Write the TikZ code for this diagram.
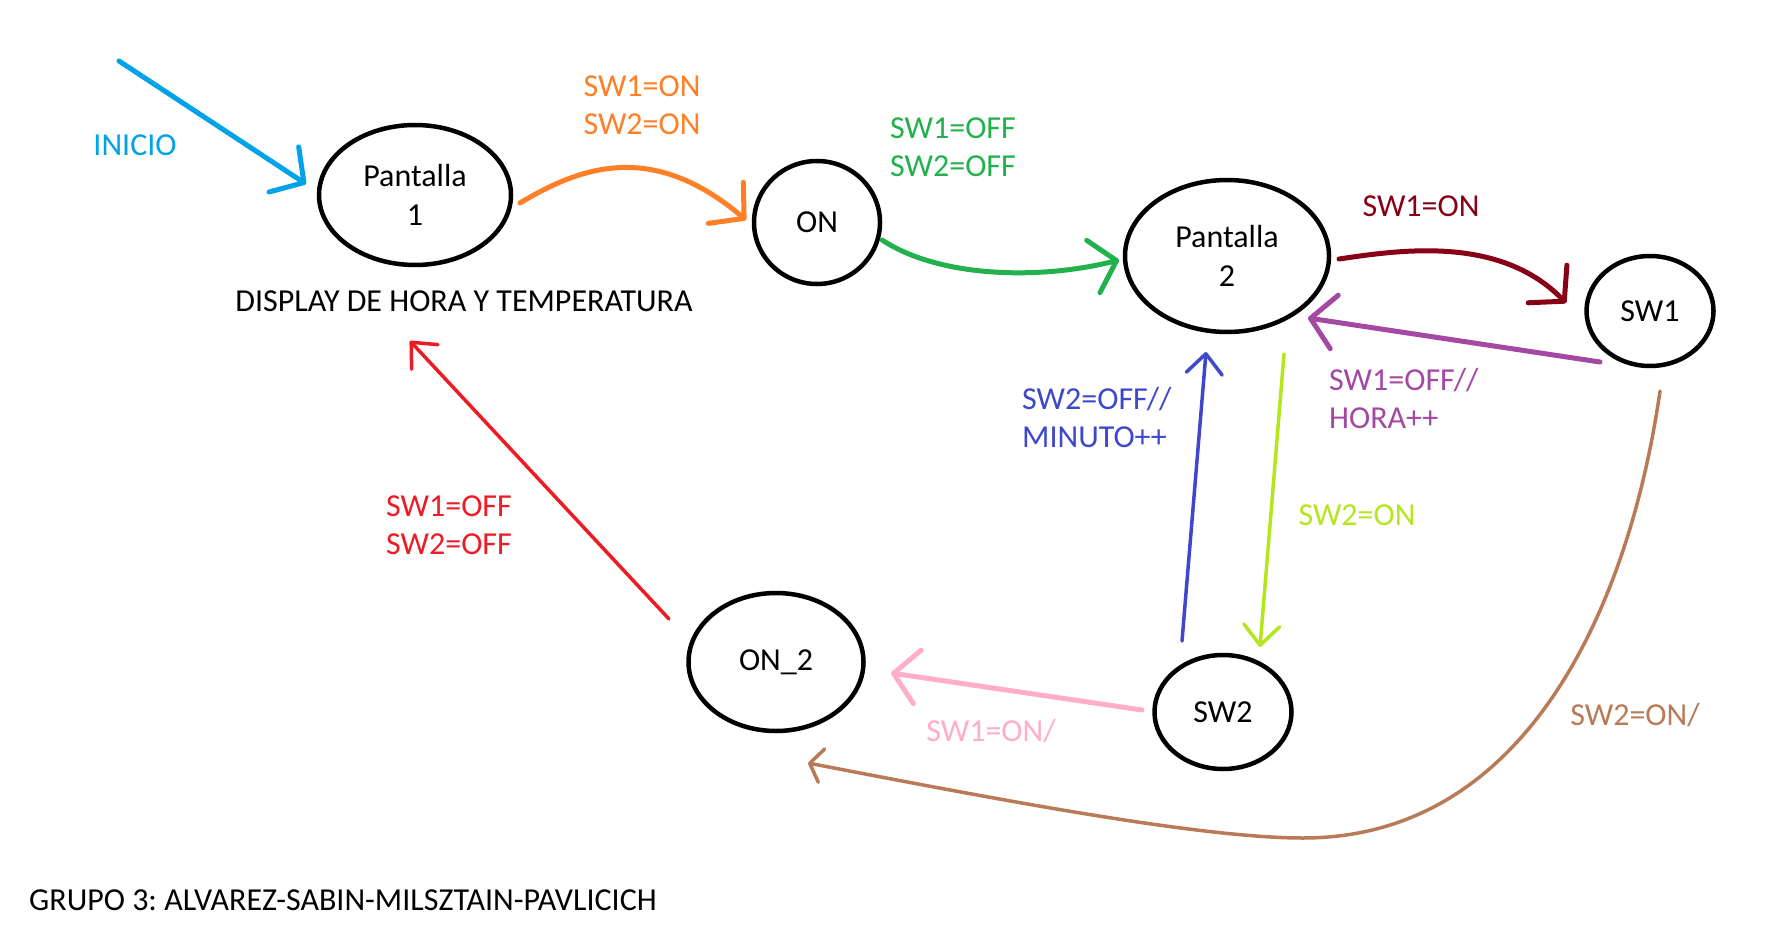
\documentclass[tikz,border=0pt]{standalone}
\usepackage{fontspec}
\setmainfont{Carlito}
\usetikzlibrary{arrows.meta,shapes.geometric,calc}
\definecolor{cCyan}{HTML}{00A2E8}
\definecolor{cOrange}{HTML}{FF7F27}
\definecolor{cGreen}{HTML}{22B14C}
\definecolor{cDarkRed}{HTML}{880015}
\definecolor{cPurple}{HTML}{A349A4}
\definecolor{cBlue}{HTML}{3F48CC}
\definecolor{cLime}{HTML}{B5E61D}
\definecolor{cRed}{HTML}{ED1C24}
\definecolor{cPink}{HTML}{FFAEC9}
\definecolor{cBrown}{HTML}{B97A57}
\frenchspacing
\begin{document}
\begin{tikzpicture}[x=1pt,y=-1pt,
  every node/.style={font=\fontsize{32}{38.5}\selectfont, inner sep=0pt},
  state/.style={ellipse, draw=black, line width=4.5pt, align=center},
  bigarrow/.style={line width=5pt, line cap=round,
    -{Straight Barb[length=24pt,width=54pt,round]}},
  smallarrow/.style={line width=3.5pt, line cap=round,
    -{Straight Barb[length=20pt,width=36pt,round]}}
]
\fill[white] (0,0) rectangle (1776,944);
\useasboundingbox (0,0) rectangle (1776,944);

% states
\node[state, minimum width=192pt, minimum height=140pt] (P1) at (415,195) {Pantalla\\1};
\node[state, minimum width=126pt, minimum height=123pt] (ON) at (817,222.5) {ON};
\node[state, minimum width=204pt, minimum height=152pt] (P2) at (1227,256) {Pantalla\\2};
\node[state, minimum width=127pt, minimum height=110pt] (SW1) at (1650,311) {SW1};
\node[state, minimum width=175pt, minimum height=138pt] (ON2) at (776,662) {ON\_2};
\node[state, minimum width=137pt, minimum height=114pt] (SW2) at (1223,712) {SW2};

% connectors
\coordinate (inicioS) at (119,61);
\draw[bigarrow, cCyan] (inicioS) -- ($(P1.center)+(-109,-11)$);
\draw[bigarrow, cOrange] ($(P1.center)+(105,8)$) .. controls (580,167) and (652,140) .. ($(ON.center)+(-71,-2.5)$);
\draw[bigarrow, cGreen] ($(ON.center)+(65,17.5)$) .. controls (940,278) and (1040,280) .. ($(P2.center)+(-108,4)$);
\draw[bigarrow, cDarkRed] ($(P2.center)+(112,3)$) .. controls (1400,250) and (1500,235) .. ($(SW1.center)+(-84,-8)$);
\draw[bigarrow, cPurple] ($(SW1.center)+(-50,51)$) -- ($(P2.center)+(81,62)$);
\draw[smallarrow, cBlue] ($(SW2.center)+(-41,-71)$) -- ($(P2.center)+(-21,96)$);
\draw[smallarrow, cLime] ($(P2.center)+(57,98)$) -- ($(SW2.center)+(37,-65)$);
\draw[smallarrow, cRed] ($(ON2.center)+(-107,-43)$) -- ($(P1.center)+(-5,146)$);
\draw[bigarrow, cPink] ($(SW2.center)+(-81,-2)$) -- ($(ON2.center)+(115,11)$);
\draw[line width=3.5pt, line cap=round, -{Straight Barb[length=12pt,width=34pt,round]}, cBrown]
  ($(SW1.center)+(10,80)$) .. controls (1630,600) and (1530,838) .. (1303,838)
  .. controls (1200,838) and (1000,800) .. ($(ON2.center)+(32,101)$);

% labels
\node[text=cCyan] (tInicio) at (135,145) {INICIO};
\node[text=cOrange, align=center] (tOrange) at (642,105) {SW1=ON\\SW2=ON};
\node[text=cGreen, align=center] (tGreen) at (953,147) {SW1=OFF\\SW2=OFF};
\node (tDisplay) at (464,301) {DISPLAY DE HORA Y TEMPERATURA};
\node[text=cDarkRed] (tDR) at (1421,206) {SW1=ON};
\node[text=cPurple, align=left, anchor=west] (tPurple) at (1329,398.5) {SW1=OFF//\\HORA++};
\node[text=cBlue, align=left, anchor=west] (tBlue) at (1022,417.5) {SW2=OFF//\\MINUTO++};
\node[text=cLime] (tLime) at (1357,515) {SW2=ON};
\node[text=cRed, align=center] (tRed) at (449,525) {SW1=OFF\\SW2=OFF};
\node[text=cPink] (tPink) at (991,731) {SW1=ON/};
\node[text=cBrown] (tBrown) at (1635,715) {SW2=ON/};
\node[anchor=west] (tGrupo) at (29,900.5) {GRUPO 3: ALVAREZ-SABIN-MILSZTAIN-PAVLICICH};
\end{tikzpicture}
\end{document}
